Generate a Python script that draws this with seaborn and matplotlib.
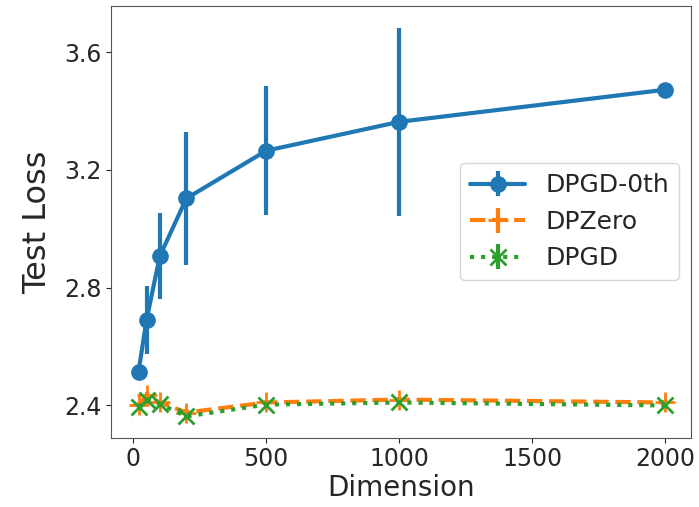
import matplotlib
matplotlib.use("Agg")
import matplotlib.pyplot as plt
import seaborn as sns

# values
dims = [20, 50, 100, 200, 500, 1000, 2000]

dpgd0_mean = [2.515, 2.69, 2.907, 3.103, 3.265, 3.363, 3.472]
dpgd0_err = [0.02, 0.115, 0.145, 0.225, 0.22, 0.32, 0.01]

dpzero_mean = [2.40, 2.434, 2.41, 2.376, 2.41, 2.42, 2.41]
dpzero_err = [0.01, 0.012, 0.01, 0.012, 0.008, 0.008, 0.008]

dpgd_mean = [2.395, 2.42, 2.405, 2.363, 2.403, 2.41, 2.40]
dpgd_err = [0.01, 0.012, 0.01, 0.012, 0.008, 0.008, 0.008]

sns.set_style("ticks")
colors = sns.color_palette("tab10")

fig, ax = plt.subplots(figsize=(6.99, 5.07), dpi=100)
fig.subplots_adjust(left=0.159, right=0.989, top=0.988, bottom=0.137)

ax.errorbar(dims, dpgd0_mean, yerr=dpgd0_err, color=colors[0], marker="o",
            markersize=11, linewidth=3, elinewidth=3, label="DPGD-0th")
ax.errorbar(dims, dpzero_mean, yerr=dpzero_err, color=colors[1], marker="+",
            markersize=14, markeredgewidth=2, linewidth=3, linestyle="--",
            elinewidth=3, label="DPZero")
ax.errorbar(dims, dpgd_mean, yerr=dpgd_err, color=colors[2], marker="x",
            markersize=12, markeredgewidth=2, linewidth=3, linestyle=":",
            elinewidth=3, label="DPGD")

ax.set_xlim(-83, 2098)
ax.set_ylim(2.291, 3.756)
ax.set_xticks([0, 500, 1000, 1500, 2000])
ax.set_yticks([2.4, 2.8, 3.2, 3.6])
ax.tick_params(labelsize=17)
ax.set_xlabel("Dimension", fontsize=20, labelpad=2)
ax.set_ylabel("Test Loss", fontsize=23, labelpad=8)
for s in ax.spines.values():
    s.set_color("#555555")

ax.legend(fontsize=18, loc="center right", bbox_to_anchor=(1.0, 0.5),
          handlelength=2.2)

plt.savefig("out.png")
plt.close()
